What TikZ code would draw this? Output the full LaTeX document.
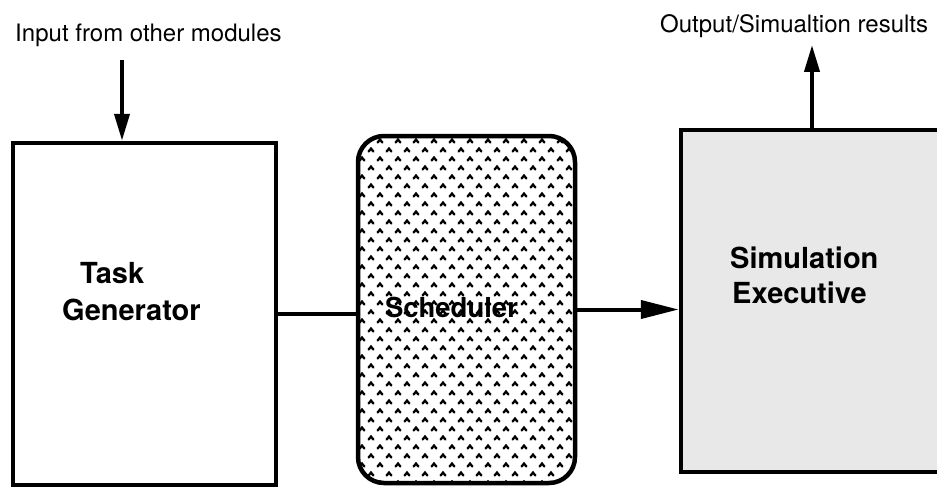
\documentclass[tikz,border=0pt]{standalone}
\usepackage{fontspec}
\setmainfont{TeX Gyre Heros}
\usetikzlibrary{arrows.meta}
\tikzset{
  box/.style={draw, line width=4.5pt, inner sep=0pt},
  conn/.style={line width=4pt},
  vtip/.style={-{Triangle[length=27pt,width=15pt]}},
  htip/.style={-{Triangle[length=38pt,width=18pt]}},
  small/.style={font=\fontsize{24}{28}\selectfont, inner sep=0pt},
  big/.style={font=\fontsize{29}{34}\selectfont\bfseries, inner sep=0pt},
  mid/.style={font=\fontsize{27.5}{33}\selectfont\bfseries, inner sep=0pt},
  caret/.style={line width=2.3pt, line cap=round, line join=miter},
}
\begin{document}
\begin{tikzpicture}[x=1pt,y=-1pt]
\clip (0,0) rectangle (937,487);
\fill[white] (0,0) rectangle (937,487);
% Task Generator box
\node[box, minimum width=263pt, minimum height=342pt] (tg) at (144.5,314) {};
\node[big, anchor=base west] (tg1) at (80,283) {Task};
\node[big, anchor=base west] (tg2) at (62,320) {Generator};
% Scheduler pattern
\begin{scope}
  \clip[rounded corners=26pt] (358,136) rectangle (575,483);
  \foreach \r in {0,...,39}{
    \foreach \c in {0,...,13}{
      \pgfmathsetmacro\xx{362+\c*18+mod(\r,2)*9}
      \pgfmathsetmacro\yy{141+\r*9}
      \draw[caret] (\xx-2.4,\yy+1.5) -- (\xx,\yy-1.4) -- (\xx+2.4,\yy+1.5);
    }
  }
\end{scope}
\node[box, rounded corners=26pt, minimum width=217pt, minimum height=347pt] (sch) at (466.5,309.5) {};
\node[mid, anchor=base] (schl) at (451.5,317) {Scheduler};
% Simulation Executive
\node[box, fill=black!9, minimum width=340pt, minimum height=342pt] (se) at (851,301) {};
\node[big, anchor=base west] (se1) at (730,268) {Simulation};
\node[big, anchor=base west] (se2) at (732,303) {Executive};
% labels
\node[small, anchor=base west] (inl) at (15,42) {Input from other modules};
\node[small, anchor=base west] (outl) at (660,33) {Output/Simualtion results};
\coordinate (inp) at (122,60);
\coordinate (outp) at (812,45);
% connectors
\draw[conn, vtip] (inp) -- (inp |- tg.north);
\draw[conn] (tg.east) -- (tg.east -| sch.west);
\draw[conn, htip] (sch.east) -- (sch.east -| se.west);
\draw[conn, vtip] (se.north -| outp) -- (outp);
\end{tikzpicture}
\end{document}
